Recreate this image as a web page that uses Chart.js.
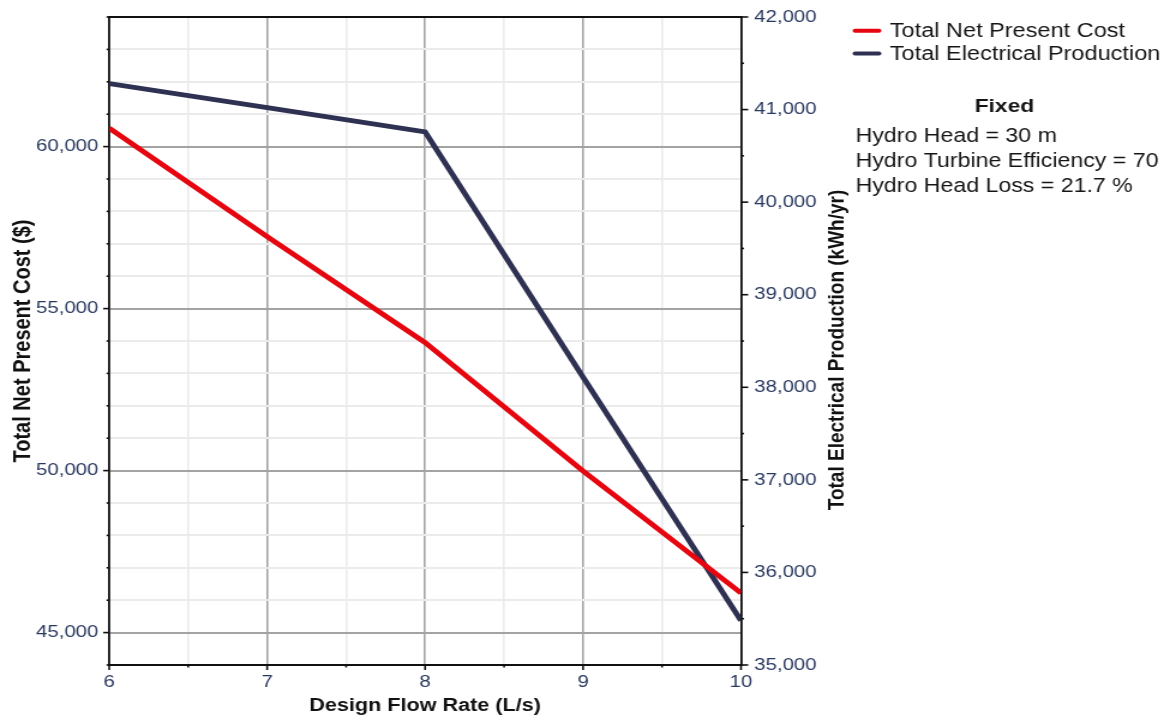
<!DOCTYPE html>
<html>
<head>
<meta charset="utf-8">
<script src="https://cdn.jsdelivr.net/npm/chart.js@4/dist/chart.umd.min.js"></script>
<style>
  html, body { margin: 0; padding: 0; background: #fff; overflow: hidden; }
  #wrap { width: 976px; height: 719px; transform: scale(1.2, 1); transform-origin: 0 0; }
  canvas { display: block; }
</style>
</head>
<body>
<div id="wrap"><canvas id="c" width="976" height="719" style="width:976px;height:719px"></canvas></div>
<script>
// Sensitivity of the hydro system to its design flow rate
const flowRates = [6, 7, 8, 9, 10];                                  // L/s
const totalNetPresentCost = [60570, 57220, 53950, 49990, 46220];     // $
const totalElectricalProduction = [41280, 41020, 40760, 38110, 35480]; // kWh/yr
const seriesNames = ['Total Net Present Cost', 'Total Electrical Production'];
const seriesColors = ['#e5060f', '#2e3152'];
const fixedTitle = 'Fixed';
const fixedParams = ['Hydro Head = 30 m', 'Hydro Turbine Efficiency = 70 %', 'Hydro Head Loss = 21.7 %'];
const xTitle = 'Design Flow Rate (L/s)';
const npcTitle = 'Total Net Present Cost ($)';
const prodTitle = 'Total Electrical Production (kWh/yr)';

const FONT = '"Liberation Sans", Arial, sans-serif';
const TICK_COLOR = '#2a3960';
const MAJOR_GRID = '#a3a3a3';
const MINOR_GRID = '#ebebeb';

Chart.defaults.font.family = FONT;

const fmt = v => Number(v).toLocaleString('en-US');

// vertical axes: fixed width, no extra room reserved for the end labels
const fitVertical = w => s => { s.width = w; s.paddingTop = 0; s.paddingBottom = 0; };

const decorations = {
  id: 'decorations',
  afterDraw(chart) {
    const ctx = chart.ctx;
    const area = chart.chartArea;
    const xs = chart.scales.x, yl = chart.scales.yNPC, yr = chart.scales.yProd;
    ctx.save();

    // frame top edge
    ctx.strokeStyle = '#111';
    ctx.lineWidth = 2;
    ctx.beginPath();
    ctx.moveTo(area.left - 1, area.top);
    ctx.lineTo(area.right + 1, area.top);
    ctx.stroke();

    // tick marks: longer at labelled values
    ctx.lineWidth = 1.6;
    xs.ticks.forEach(t => {
      const p = xs.getPixelForValue(t.value);
      const len = Number.isInteger(t.value) ? 5 : 2.5;
      ctx.beginPath(); ctx.moveTo(p, area.bottom); ctx.lineTo(p, area.bottom + len); ctx.stroke();
    });
    yl.ticks.forEach(t => {
      const p = yl.getPixelForValue(t.value);
      const len = t.value % 5000 === 0 ? 5 : 2.2;
      ctx.beginPath(); ctx.moveTo(area.left, p); ctx.lineTo(area.left - len, p); ctx.stroke();
    });
    yr.ticks.forEach(t => {
      const p = yr.getPixelForValue(t.value);
      const len = t.value % 1000 === 0 ? 6 : 2.5;
      ctx.beginPath(); ctx.moveTo(area.right, p); ctx.lineTo(area.right + len, p); ctx.stroke();
    });

    // right axis title, reading bottom to top
    ctx.fillStyle = '#111';
    ctx.font = 'bold 19px ' + FONT;
    ctx.textAlign = 'center';
    ctx.textBaseline = 'middle';
    ctx.translate(yr.right, (area.top + area.bottom) / 2 + 9);
    ctx.rotate(-Math.PI / 2);
    ctx.fillText(prodTitle, 0, 0);
    ctx.restore();

    // legend and fixed parameters, cut at the panel's right edge
    ctx.save();
    ctx.beginPath();
    ctx.rect(yr.right, 0, 969 - yr.right, chart.height);
    ctx.clip();
    const lx = yr.right + 14;
    chart.data.datasets.forEach((ds, i) => {
      const y = 30.7 + i * 22.7;
      ctx.strokeStyle = ds.borderColor;
      ctx.lineWidth = 4;
      ctx.lineCap = 'round';
      ctx.beginPath(); ctx.moveTo(lx + 1, y); ctx.lineTo(lx + 21, y); ctx.stroke();
      ctx.fillStyle = '#151515';
      ctx.font = '19.6px ' + FONT;
      ctx.textAlign = 'left';
      ctx.textBaseline = 'alphabetic';
      ctx.fillText(ds.label, lx + 30, y + 5.8 + (i ? 0.4 : 0));
    });

    ctx.fillStyle = '#151515';
    ctx.font = 'bold 19px ' + FONT;
    ctx.textAlign = 'center';
    ctx.fillText(fixedTitle, 837, 111.5);
    ctx.font = '19.3px ' + FONT;
    ctx.textAlign = 'left';
    fixedParams.forEach((s, i) => ctx.fillText(s, lx + 1.5, 141.7 + i * 25));
    ctx.restore();
  }
};

new Chart(document.getElementById('c'), {
  type: 'line',
  data: {
    datasets: [
      {
        label: seriesNames[0],
        data: flowRates.map((x, i) => ({ x, y: totalNetPresentCost[i] })),
        yAxisID: 'yNPC',
        borderColor: seriesColors[0],
        backgroundColor: seriesColors[0],
        borderWidth: 4.8,
        pointRadius: 0,
        tension: 0
      },
      {
        label: seriesNames[1],
        data: flowRates.map((x, i) => ({ x, y: totalElectricalProduction[i] })),
        yAxisID: 'yProd',
        borderColor: seriesColors[1],
        backgroundColor: seriesColors[1],
        borderWidth: 4.8,
        pointRadius: 0,
        tension: 0
      }
    ]
  },
  options: {
    responsive: false,
    animation: false,
    devicePixelRatio: 1,
    layout: { padding: { top: 17, left: 0, right: 278.5, bottom: 0 } },
    plugins: { legend: { display: false }, tooltip: { enabled: false } },
    scales: {
      x: {
        type: 'linear',
        min: 6, max: 10,
        afterFit: s => { s.height = 54; },
        ticks: {
          stepSize: 0.5, autoSkip: false, maxRotation: 0, padding: 7,
          color: TICK_COLOR, font: { size: 17 },
          callback: v => Number.isInteger(v) ? String(v) : ''
        },
        grid: {
          drawTicks: false,
          lineWidth: 1.6,
          color: c => Number.isInteger(c.tick.value) ? MAJOR_GRID : MINOR_GRID
        },
        border: { display: true, color: '#111', width: 2 },
        title: { display: true, text: xTitle, color: '#111', font: { size: 18, weight: 'bold' }, padding: { top: 0, bottom: 2 } }
      },
      yNPC: {
        position: 'left',
        min: 44000, max: 64000,
        afterFit: fitVertical(91),
        ticks: {
          stepSize: 1000, autoSkip: false, padding: 9,
          color: TICK_COLOR, font: { size: 17 },
          callback: v => v % 5000 === 0 ? fmt(v) : ''
        },
        grid: {
          drawTicks: false,
          lineWidth: 2,
          color: c => c.tick.value % 5000 === 0 ? MAJOR_GRID : MINOR_GRID
        },
        border: { display: true, color: '#111', width: 1.8 },
        title: { display: true, text: npcTitle, color: '#111', font: { size: 20, weight: 'bold' }, padding: { top: 7.7, bottom: 0 } }
      },
      yProd: {
        position: 'right',
        min: 35000, max: 42000,
        afterFit: fitVertical(80),
        ticks: {
          stepSize: 500, autoSkip: false, padding: 11,
          color: TICK_COLOR, font: { size: 17 },
          callback: v => v % 1000 === 0 ? fmt(v) : ''
        },
        grid: { drawOnChartArea: false, drawTicks: false },
        border: { display: true, color: '#111', width: 1.8 }
      }
    }
  },
  plugins: [decorations]
});
</script>
</body>
</html>
